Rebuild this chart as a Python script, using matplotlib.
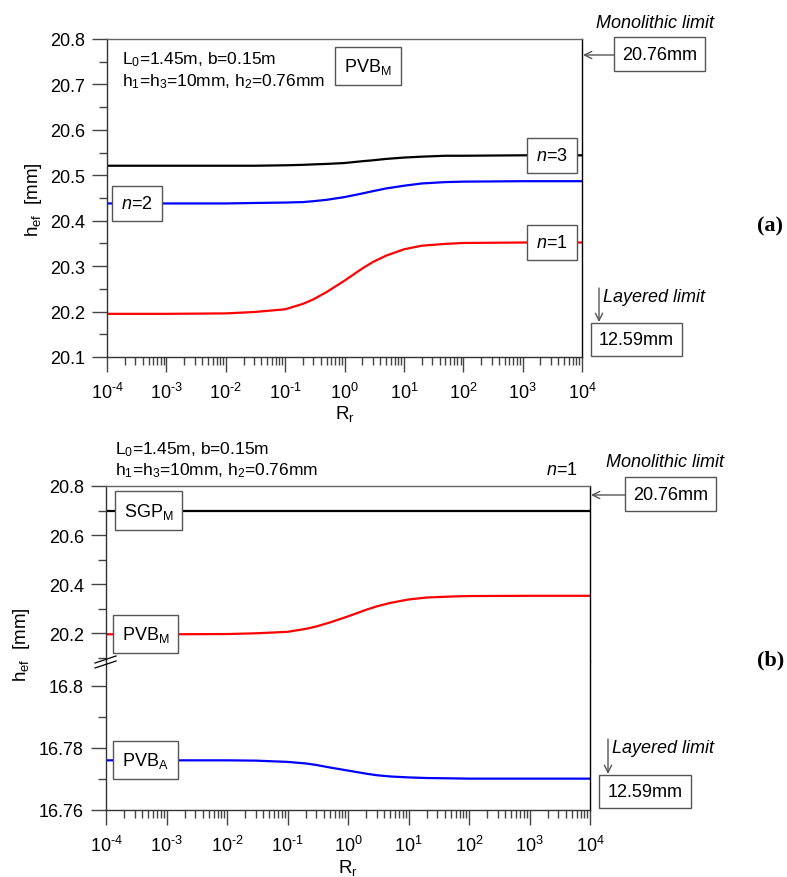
import math
import matplotlib
matplotlib.use("Agg")
import matplotlib.pyplot as plt
from matplotlib.ticker import LogLocator, FixedLocator, FuncFormatter, NullFormatter
from matplotlib.lines import Line2D
from matplotlib.patches import FancyArrowPatch

plt.rcParams['font.family'] = ['Liberation Sans', 'DejaVu Sans']
plt.rcParams['mathtext.fontset'] = 'custom'
plt.rcParams['mathtext.rm'] = 'Liberation Sans'
plt.rcParams['mathtext.it'] = 'Liberation Sans:italic'
plt.rcParams['mathtext.bf'] = 'Liberation Sans:bold'

# data
rr = [1e-4, 1e-3, 1e-2, 0.03, 0.1, 0.2, 0.3, 0.5, 1, 2, 3, 5, 10, 20, 50, 100, 1e3, 1e4]
hef_n1 = [20.195, 20.195, 20.196, 20.199, 20.205, 20.217, 20.227, 20.243, 20.268,
          20.295, 20.309, 20.323, 20.337, 20.345, 20.349, 20.351, 20.352, 20.352]
hef_n2 = [20.438, 20.438, 20.438, 20.439, 20.440, 20.441, 20.443, 20.446, 20.452,
          20.460, 20.465, 20.471, 20.477, 20.482, 20.485, 20.486, 20.487, 20.487]
hef_n3 = [20.521, 20.521, 20.521, 20.521, 20.522, 20.523, 20.524, 20.525, 20.527,
          20.531, 20.533, 20.536, 20.539, 20.541, 20.543, 20.543, 20.544, 20.544]
hef_sgp_m = [20.70] * len(rr)
hef_pvb_m = hef_n1
hef_pvb_a = [16.7760, 16.7760, 16.7760, 16.7759, 16.7755, 16.7750, 16.7745, 16.7737, 16.7727,
             16.7717, 16.7712, 16.7708, 16.7705, 16.7703, 16.7702, 16.7701, 16.7701, 16.7701]

W, H = 787, 878
fig = plt.figure(figsize=(W / 100, H / 100), dpi=100)


def fx(px):
    return px / W


def fy(py):
    return 1 - py / H


def rect(x0, y0, x1, y1):
    return [fx(x0), fy(y1), fx(x1) - fx(x0), fy(y0) - fy(y1)]


TICK_C = '#444444'
BOX_EC = '#555555'
TXT = 13


def pow10(v, pos):
    return '$\\mathregular{10^{\\text{%d}}}$' % round(math.log10(v))


def style_xaxis(ax):
    ax.set_xscale('log')
    ax.set_xlim(1e-4, 1e4)
    ax.xaxis.set_major_locator(LogLocator(base=10, numticks=20))
    ax.xaxis.set_minor_locator(LogLocator(base=10, subs=range(2, 10), numticks=20))
    ax.xaxis.set_major_formatter(FuncFormatter(pow10))
    ax.xaxis.set_minor_formatter(NullFormatter())
    ax.tick_params(axis='x', which='major', direction='out', length=11, width=1,
                   color=TICK_C, labelsize=13, pad=7)
    ax.tick_params(axis='x', which='minor', direction='out', length=5.5, width=1, color=TICK_C)


def style_yaxis(ax):
    ax.tick_params(axis='y', which='major', direction='out', length=11, width=1,
                   color=TICK_C, labelsize=13, pad=5)
    ax.tick_params(axis='y', which='minor', direction='out', length=5.5, width=1, color=TICK_C)
    ax.tick_params(right=False, top=False, which='both')


def spines(ax):
    for s in ['left', 'bottom']:
        ax.spines[s].set_color('#333333')
    ax.spines['top'].set_color('#666666')
    ax.spines['right'].set_color('black')
    for s in ax.spines.values():
        s.set_linewidth(1)


def boxlabel(ax, x, y, s, size=TXT, pad=0.5):
    ax.text(x, y, s, ha='center', va='center', fontsize=size, zorder=5,
            bbox=dict(boxstyle='square,pad=%s' % pad, fc='white', ec=BOX_EC, lw=1))


def figbox(px, py, s):
    fig.text(fx(px), fy(py), s, ha='center', va='center', fontsize=TXT,
             bbox=dict(boxstyle='square,pad=0.45', fc='white', ec=BOX_EC, lw=1))


def arrow(p0, p1):
    fig.add_artist(FancyArrowPatch(
        (fx(p0[0]), fy(p0[1])), (fx(p1[0]), fy(p1[1])), transform=fig.transFigure,
        arrowstyle='->', mutation_scale=13, color=BOX_EC, lw=1, shrinkA=0, shrinkB=0))


# ---------------- panel (a) ----------------
ax1 = fig.add_axes(rect(107, 40, 582, 358))
ax1.plot(rr, hef_n3, color='black', lw=1.6)
ax1.plot(rr, hef_n2, color='#0000ff', lw=1.6)
ax1.plot(rr, hef_n1, color='#ff0000', lw=1.6)
style_xaxis(ax1)
ax1.set_ylim(20.1, 20.8)
ax1.yaxis.set_major_locator(FixedLocator([20.1, 20.2, 20.3, 20.4, 20.5, 20.6, 20.7, 20.8]))
ax1.yaxis.set_minor_locator(FixedLocator([20.15, 20.25, 20.35, 20.45, 20.55, 20.65, 20.75]))
ax1.yaxis.set_major_formatter(FuncFormatter(lambda v, p: '%.1f' % v))
style_yaxis(ax1)
spines(ax1)

boxlabel(ax1, 10 ** 3.5, hef_n3[-1], '$n$=3')
boxlabel(ax1, 10 ** -3.5, hef_n2[0], '$n$=2')
boxlabel(ax1, 10 ** 3.5, hef_n1[-1], '$n$=1')

fig.text(fx(122), fy(60), '$\\mathregular{L_0}$=1.45m, b=0.15m', fontsize=12.5, va='center')
fig.text(fx(122), fy(82), '$\\mathregular{h_1}$=$\\mathregular{h_3}$=10mm, $\\mathregular{h_2}$=0.76mm',
         fontsize=12.5, va='center')
fig.text(fx(368), fy(67), '$\\mathregular{PVB_M}$', fontsize=TXT, ha='center', va='center',
         bbox=dict(boxstyle='square,pad=0.5', fc='white', ec=BOX_EC, lw=1))

fig.text(fx(33), fy(200), '$\\mathregular{h_{ef}}$  [mm]', rotation=90, fontsize=13.5,
         ha='center', va='center')
fig.text(fx(345), fy(414), '$\\mathregular{R_r}$', fontsize=13.5, ha='center', va='center')

fig.text(fx(655), fy(24), 'Monolithic limit', style='italic', fontsize=TXT, ha='center', va='center')
figbox(659.5, 55, '20.76mm')
arrow((615, 56), (583, 56))
fig.text(fx(603), fy(298), 'Layered limit', style='italic', fontsize=TXT, ha='left', va='center')
arrow((599, 289), (599, 323))
figbox(636.5, 340.5, '12.59mm')
fig.text(fx(757), fy(226), '(a)', family=['Liberation Serif', 'DejaVu Serif'], fontweight='bold',
         fontsize=16, ha='left', va='center')

# ---------------- panel (b) ----------------
ax2 = fig.add_axes(rect(106, 487, 590, 662))
ax3 = fig.add_axes(rect(106, 662, 590, 811), sharex=ax2)

ax2.plot(rr, hef_sgp_m, color='black', lw=1.6)
ax2.plot(rr, hef_pvb_m, color='#ff0000', lw=1.6)
ax3.plot(rr, hef_pvb_a, color='#0000ff', lw=1.6)

style_xaxis(ax3)
style_xaxis(ax2)
ax2.tick_params(axis='x', which='both', bottom=False, labelbottom=False)
ax2.set_ylim(20.086, 20.8)
ax2.yaxis.set_major_locator(FixedLocator([20.2, 20.4, 20.6, 20.8]))
ax2.yaxis.set_minor_locator(FixedLocator([20.1, 20.3, 20.5, 20.7]))
ax2.yaxis.set_major_formatter(FuncFormatter(lambda v, p: '%.1f' % v))
ax3.set_ylim(16.76, 16.808)
ax3.yaxis.set_major_locator(FixedLocator([16.76, 16.78, 16.80]))
ax3.yaxis.set_minor_locator(FixedLocator([16.77, 16.79]))
ax3.yaxis.set_major_formatter(FuncFormatter(lambda v, p: '%g' % round(v, 2)))
for ax in (ax2, ax3):
    style_yaxis(ax)
    spines(ax)
ax2.spines['bottom'].set_visible(False)
ax3.spines['top'].set_visible(False)

boxlabel(ax2, 10 ** -3.3, hef_sgp_m[0], '$\\mathregular{SGP_M}$')
boxlabel(ax2, 10 ** -3.35, hef_pvb_m[0], '$\\mathregular{PVB_M}$')
boxlabel(ax3, 10 ** -3.35, hef_pvb_a[0], '$\\mathregular{PVB_A}$')

# break marks on the left axis
for dy in (0, 5):
    fig.add_artist(Line2D([fx(95), fx(116)], [fy(669 - dy), fy(662 - dy)], color='black', lw=0.9))

fig.text(fx(115), fy(450), '$\\mathregular{L_0}$=1.45m, b=0.15m', fontsize=12.5, va='center')
fig.text(fx(115), fy(471), '$\\mathregular{h_1}$=$\\mathregular{h_3}$=10mm, $\\mathregular{h_2}$=0.76mm',
         fontsize=12.5, va='center')
fig.text(fx(578), fy(471), '$n$=1', fontsize=TXT, ha='right', va='center')

fig.text(fx(21), fy(645), '$\\mathregular{h_{ef}}$  [mm]', rotation=90, fontsize=13.5,
         ha='center', va='center')
fig.text(fx(348), fy(868), '$\\mathregular{R_r}$', fontsize=13.5, ha='center', va='center')

fig.text(fx(665), fy(463), 'Monolithic limit', style='italic', fontsize=TXT, ha='center', va='center')
figbox(670.5, 495, '20.76mm')
arrow((625, 496), (591, 496))
fig.text(fx(612), fy(749), 'Layered limit', style='italic', fontsize=TXT, ha='left', va='center')
arrow((608, 740), (608, 775))
figbox(645, 792.5, '12.59mm')
fig.text(fx(757), fy(660), '(b)', family=['Liberation Serif', 'DejaVu Serif'], fontweight='bold',
         fontsize=16, ha='left', va='center')

fig.savefig('out.png', dpi=100)
